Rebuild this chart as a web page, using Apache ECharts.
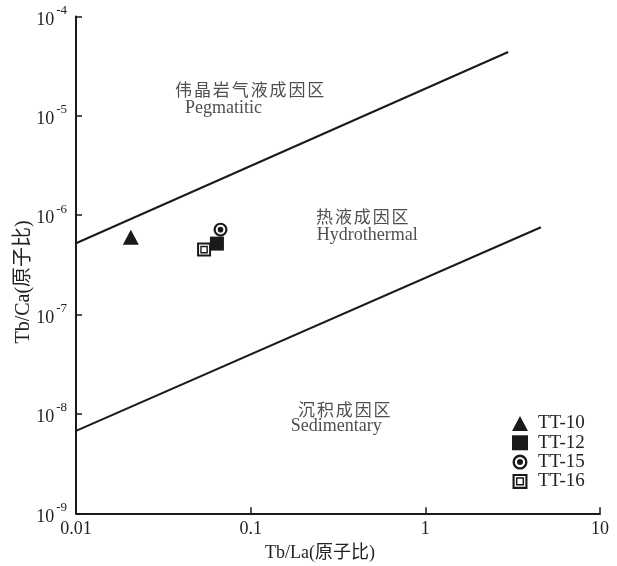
<!DOCTYPE html>
<html>
<head>
<meta charset="utf-8">
<script src="https://cdn.jsdelivr.net/npm/echarts@6/dist/echarts.min.js"></script>
<style>
html,body{margin:0;padding:0;background:#fff;}
#main{width:617px;height:566px;}
</style>
</head>
<body>
<div id="main"></div>
<script>
// ---- data ----
const sampleNames = ['TT-10', 'TT-12', 'TT-15', 'TT-16'];
const tbLa = [0.0206, 0.0641, 0.0672, 0.0541];     // x: Tb/La
const tbCa = [6.0e-7, 5.18e-7, 7.16e-7, 4.51e-7];  // y: Tb/Ca
const upperBoundaryX = [0.01, 2.98];
const upperBoundaryY = [5.22e-7, 4.39e-5];
const lowerBoundaryX = [0.01, 4.59];
const lowerBoundaryY = [6.76e-9, 7.57e-7];
const xTickLabels = ['0.01', '0.1', '1', '10'];
const yTickExponents = ['-9', '-8', '-7', '-6', '-5', '-4'];
const zoneTexts = ['伟晶岩气液成因区', 'Pegmatitic', '热液成因区', 'Hydrothermal', '沉积成因区', 'Sedimentary'];

// ---- annotation anchors (data space) ----
const zoneAnchorX = [0.0369, 0.0421, 0.2366, 0.2388, 0.1866, 0.1694];
const zoneAnchorY = [1.82e-5, 1.18e-5, 9.68e-7, 6.34e-7, 1.12e-8, 7.46e-9];

const SERIF = '"Liberation Serif", "Times New Roman", "Noto Sans CJK SC", serif';
const CJK = '"Noto Sans CJK SC", sans-serif';

const circleDot = 'path://M0,7 A7,7 0 1,1 14,7 A7,7 0 1,1 0,7 Z M2.2,7 A4.8,4.8 0 1,0 11.8,7 A4.8,4.8 0 1,0 2.2,7 Z M4.2,7 A2.8,2.8 0 1,1 9.8,7 A2.8,2.8 0 1,1 4.2,7 Z';
const doubleSquare = 'path://M0,0 L14,0 L14,14 L0,14 Z M2,2 L2,12 L12,12 L12,2 Z M3.2,3.2 L10.8,3.2 L10.8,10.8 L3.2,10.8 Z M4.6,4.6 L4.6,9.4 L9.4,9.4 L9.4,4.6 Z';
const symbols = ['triangle', 'rect', circleDot, doubleSquare];
const symbolSizes = [[16, 15], 14, 14, 14];

const chart = echarts.init(document.getElementById('main'), null, {renderer: 'canvas'});

const series = sampleNames.map((n, i) => ({
  name: n,
  type: 'scatter',
  symbol: symbols[i],
  symbolSize: symbolSizes[i],
  itemStyle: {color: '#1a1a1a', opacity: 1},
  data: [[tbLa[i], tbCa[i]]],
  z: 5
}));

series.push({
  name: 'upper',
  type: 'line',
  data: upperBoundaryX.map((x, i) => [x, upperBoundaryY[i]]),
  symbol: 'none',
  lineStyle: {color: '#1a1a1a', width: 2},
  silent: true
});
series.push({
  name: 'lower',
  type: 'line',
  data: lowerBoundaryX.map((x, i) => [x, lowerBoundaryY[i]]),
  symbol: 'none',
  lineStyle: {color: '#1a1a1a', width: 2},
  silent: true
});

// Chinese zone titles are letter-spaced: one rich token per character
const spaced = s => Array.from(s).map((ch, k, arr) => '{' + (k < arr.length - 1 ? 'c' : 'cl') + '|' + ch + '}').join('');

series.push({
  name: 'zones',
  type: 'scatter',
  symbolSize: 0,
  silent: true,
  data: zoneTexts.map((t, i) => ({name: t, value: [zoneAnchorX[i], zoneAnchorY[i]]})),
  label: {
    show: true,
    position: 'right',
    distance: 0,
    formatter: p => /[\u4e00-\u9fff]/.test(p.name) ? spaced(p.name) : '{e|' + p.name + '}',
    rich: {
      c: {fontFamily: CJK, fontSize: 17, color: '#222', padding: [0, 1.9, 0, 0]},
      cl: {fontFamily: CJK, fontSize: 17, color: '#222'},
      e: {fontFamily: SERIF, fontSize: 18, color: '#222'}
    }
  }
});

const option = {
  backgroundColor: '#fff',
  animation: false,
  grid: {left: 76, right: 17, top: 16.5, bottom: 52.7, containLabel: false, outerBoundsMode: 'none'},
  xAxis: {
    type: 'log',
    logBase: 10,
    min: 0.01,
    max: 10,
    name: 'Tb/La(原子比)',
    nameLocation: 'middle',
    nameGap: 31,
    nameMoveOverlap: false,
    nameTextStyle: {fontFamily: SERIF, fontSize: 18, color: '#222', padding: [0, 36, 0, 0]},
    axisLine: {show: true, lineStyle: {color: '#1a1a1a', width: 2}},
    axisTick: {show: true, inside: true, length: 6, lineStyle: {color: '#1a1a1a', width: 1.5}},
    minorTick: {show: false},
    splitLine: {show: false},
    axisLabel: {
      show: true, margin: 7, fontFamily: SERIF, fontSize: 18, color: '#222',
      showMinLabel: true, showMaxLabel: true,
      formatter: v => xTickLabels[Math.round(Math.log10(v)) + 2] || ''
    }
  },
  yAxis: {
    type: 'log',
    logBase: 10,
    min: 1e-9,
    max: 1e-4,
    name: 'Tb/Ca(原子比)',
    nameLocation: 'middle',
    nameGap: 42,
    nameRotate: 90,
    nameMoveOverlap: false,
    nameTextStyle: {fontFamily: SERIF, fontSize: 20, color: '#222', padding: [0, 34, 0, 0]},
    axisLine: {show: true, lineStyle: {color: '#1a1a1a', width: 2}},
    axisTick: {show: true, inside: true, length: 6, lineStyle: {color: '#1a1a1a', width: 1.5}},
    minorTick: {show: false},
    splitLine: {show: false},
    axisLabel: {
      show: true, margin: 9,
      showMinLabel: true, showMaxLabel: true,
      formatter: v => {
        const e = yTickExponents[Math.round(Math.log10(v)) + 9];
        return e ? '{b|10}{s|' + e + '}' : '';
      },
      rich: {
        b: {fontFamily: SERIF, fontSize: 18, color: '#222', lineHeight: 25, verticalAlign: 'bottom'},
        s: {fontFamily: SERIF, fontSize: 13, color: '#222', lineHeight: 25, verticalAlign: 'top', padding: [0, 0, 0, 2]}
      }
    }
  },
  legend: {
    data: sampleNames,
    orient: 'vertical',
    left: 512,
    top: 414,
    itemWidth: 16,
    itemHeight: 15,
    itemGap: 0.3,
    padding: 0,
    selectedMode: false,
    textStyle: {fontFamily: SERIF, fontSize: 19, color: '#222', padding: [0, 0, 0, 5], lineHeight: 15}
  },
  series: series
};

chart.setOption(option);
</script>
</body>
</html>
